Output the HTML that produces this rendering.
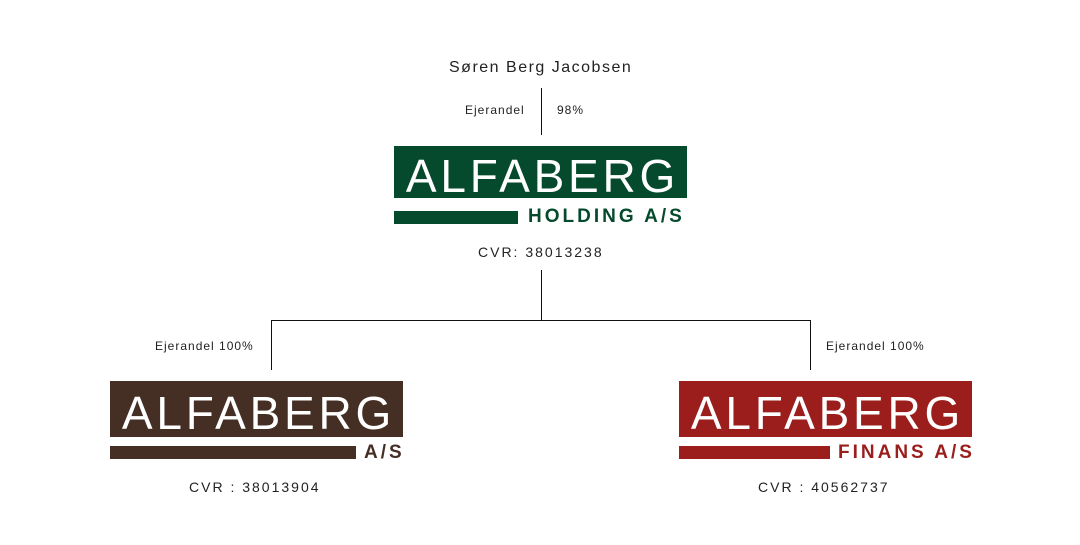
<!DOCTYPE html>
<html><head><meta charset="utf-8"><style>
body{margin:0;width:1080px;height:545px;background:#fff;position:relative;font-family:"Liberation Sans",sans-serif;overflow:hidden}
.a{position:absolute}
.t{position:absolute;color:#222;white-space:nowrap}
.box{position:absolute;width:293px;color:#fff;font-size:46px;letter-spacing:3.8px;text-align:center;line-height:1;box-sizing:border-box;padding-left:4px;overflow:hidden;white-space:nowrap}
.sub{position:absolute;font-weight:bold;font-size:19px;letter-spacing:3px;white-space:nowrap;line-height:1}
.ln{position:absolute;background:#111}
</style></head><body>
<div class="t" style="left:449px;top:59px;font-size:16px;letter-spacing:1.5px">Søren Berg Jacobsen</div>
<div class="ln" style="left:541px;top:88px;width:1px;height:47px"></div>
<div class="t" style="left:465px;top:103px;font-size:12px;letter-spacing:1px">Ejerandel</div>
<div class="t" style="left:557px;top:103px;font-size:12px;letter-spacing:1px">98%</div>

<div class="box" style="left:394px;top:146px;height:52px;background:#054a2d;padding-top:7px">ALFABERG</div>
<div class="a" style="left:394px;top:211px;width:124px;height:13px;background:#054a2d"></div>
<div class="sub" style="left:528px;top:207px;color:#054a2d">HOLDING A/S</div>
<div class="t" style="left:478px;top:244px;font-size:14px;letter-spacing:2px">CVR: 38013238</div>

<div class="ln" style="left:541px;top:270px;width:1px;height:50px"></div>
<div class="ln" style="left:271px;top:320px;width:540px;height:1px"></div>
<div class="ln" style="left:271px;top:320px;width:1px;height:50px"></div>
<div class="ln" style="left:810px;top:320px;width:1px;height:50px"></div>
<div class="t" style="left:155px;top:339px;font-size:12px;letter-spacing:1px">Ejerandel 100%</div>
<div class="t" style="left:826px;top:339px;font-size:12px;letter-spacing:1px">Ejerandel 100%</div>

<div class="box" style="left:110px;top:381px;height:56px;background:#452f25;padding-top:9px">ALFABERG</div>
<div class="a" style="left:110px;top:446px;width:246px;height:13px;background:#452f25"></div>
<div class="sub" style="left:364px;top:443px;color:#452f25">A/S</div>
<div class="t" style="left:189px;top:479px;font-size:14px;letter-spacing:2px">CVR : 38013904</div>

<div class="box" style="left:679px;top:381px;height:56px;background:#9b1e1c;padding-top:9px">ALFABERG</div>
<div class="a" style="left:679px;top:446px;width:151px;height:13px;background:#9b1e1c"></div>
<div class="sub" style="left:838px;top:443px;color:#9b1e1c">FINANS A/S</div>
<div class="t" style="left:758px;top:479px;font-size:14px;letter-spacing:2px">CVR : 40562737</div>
</body></html>
